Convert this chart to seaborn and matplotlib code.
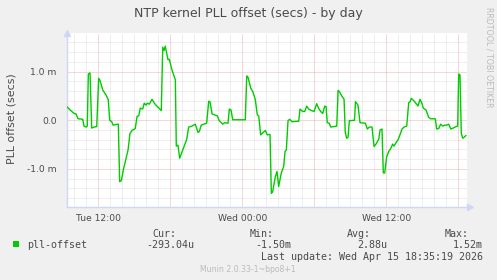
import matplotlib
matplotlib.use("Agg")
import matplotlib.pyplot as plt
from matplotlib.patches import Rectangle
import pandas as pd
import seaborn as sns

# ---- data (hours since Tue 00:00, offset in milliseconds) ----
hours = [9.37, 9.70, 9.98, 10.14, 10.31, 10.70, 10.81, 10.98, 11.08, 11.17, 11.31, 11.45, 11.64, 11.87,
         12.03, 12.14, 12.37, 12.64, 12.83, 12.95, 13.12, 13.23, 13.67, 13.78, 13.92, 14.10, 14.25, 14.48,
         14.64, 14.81, 15.08, 15.23, 15.37, 15.50, 15.70, 15.83, 15.98, 16.08, 16.25, 16.48, 16.67, 16.92,
         17.25, 17.37, 17.48, 17.58, 17.81, 17.92, 18.14, 18.42, 18.50, 18.64, 18.78, 19.08, 19.37, 19.53,
         19.81, 20.08, 20.31, 20.42, 20.58, 20.81, 21.03, 21.20, 21.31, 21.48, 21.70, 21.92, 22.08, 22.37,
         22.53, 22.81, 22.92, 23.06, 23.20, 23.48, 23.81, 24.25, 24.37, 24.48, 24.70, 24.87, 25.08, 25.25,
         25.37, 25.53, 25.75, 25.92, 26.08, 26.31, 26.42, 26.53, 26.75, 26.89, 27.03, 27.25, 27.45, 27.56,
         27.67, 27.81, 27.95, 28.14, 28.70, 28.81, 29.03, 29.20, 29.37, 29.53, 29.75, 29.98, 30.20, 30.37,
         30.53, 30.70, 30.87, 30.98, 31.08, 31.25, 31.37, 31.87, 31.98, 32.08, 32.31, 32.48, 32.58, 32.70,
         32.81, 32.92, 33.35, 33.43, 33.64, 33.81, 34.25, 34.42, 34.58, 34.81, 34.98, 35.14, 35.37, 35.48,
         35.64, 35.75, 35.87, 36.03, 36.20, 36.37, 36.53, 36.64, 36.81, 36.98, 37.14, 37.31, 37.48, 37.70,
         37.87, 37.98, 38.08, 38.37, 38.64, 38.81, 38.98, 39.08, 39.31, 39.53, 39.70, 40.08, 40.20, 40.37,
         40.53, 40.70, 40.87, 41.03, 41.20, 41.37, 41.58, 41.81, 41.95, 42.03, 42.14, 42.25, 42.37, 42.53,
         42.64]
offset_ms = [0.28, 0.20, 0.14, 0.13, 0.03, 0.02, -0.12, -0.14, -0.12, 0.95, 0.97, -0.16, -0.14, -0.13,
             0.86, 0.82, 0.62, 0.52, 0.42, 0.00, -0.03, -0.10, -0.08, -1.26, -1.24, -1.00, -0.85, -0.61,
             -0.27, -0.21, -0.17, 0.08, 0.09, 0.25, 0.23, 0.35, 0.31, 0.35, 0.33, 0.43, 0.35, 0.28,
             0.20, 1.50, 1.43, 1.52, 1.24, 1.25, 1.03, 0.83, -0.53, -0.51, -0.78, -0.58, -0.39, -0.14,
             -0.12, -0.08, -0.25, -0.23, -0.10, -0.08, -0.06, 0.39, 0.38, 0.13, 0.11, 0.09, -0.01, -0.08,
             -0.05, -0.06, 0.23, 0.21, 0.01, 0.01, 0.01, 0.01, 0.91, 0.88, 0.66, 0.59, 0.43, 0.11,
             0.09, -0.30, -0.25, -0.21, -0.30, -0.29, -1.50, -1.47, -1.16, -1.05, -1.36, -1.08, -0.95, -0.64,
             -0.61, -0.01, 0.02, -0.03, -0.02, 0.23, 0.18, 0.18, 0.29, 0.23, 0.20, 0.18, 0.34, 0.24,
             0.18, 0.14, 0.29, 0.28, -0.05, -0.06, -0.14, -0.12, 0.61, 0.59, 0.49, 0.43, -0.25, -0.37,
             -0.35, -0.01, 0.00, 0.38, 0.31, -0.05, -0.06, -0.18, -0.14, -0.14, -0.54, -0.49, -0.39, -0.20,
             -0.18, -1.08, -1.08, -0.75, -0.64, -0.58, -0.49, -0.53, -0.46, -0.40, -0.30, -0.18, -0.14, -0.12,
             0.36, 0.38, 0.45, 0.38, 0.29, 0.43, 0.34, 0.25, 0.21, 0.06, 0.03, 0.03, -0.18, -0.17,
             -0.08, -0.12, -0.10, -0.10, -0.08, -0.18, -0.16, -0.13, -0.12, 0.95, 0.93, -0.27, -0.37, -0.34,
             -0.31]

title = "NTP kernel PLL offset (secs) - by day"
y_label = "PLL offset (secs)"
x_tick_hours = [12, 24, 36]
x_tick_labels = ["Tue 12:00", "Wed 00:00", "Wed 12:00"]
y_ticks = [-1.0, 0.0, 1.0]
y_tick_labels = ["-1.0 m", "0.0", "1.0 m"]
series_name = "pll-offset"
stat_headers = ["Cur:", "Min:", "Avg:", "Max:"]
stat_values = ["-293.04u", "-1.50m", "2.88u", "1.52m"]
last_update = "Last update: Wed Apr 15 18:35:19 2026"
munin_version = "Munin 2.0.33-1~bpo8+1"
watermark = "RRDTOOL / TOBI OETIKER"

# ---- style ----
sns.set_style("white")
plt.rcParams['font.family'] = ['DejaVu Sans']

W, H = 497, 280
BG = "#F0F0F0"
FONT = "#4A4A4A"
AXIS = "#CFD6F8"
GRID = "#DEDEDE"
MGRID = "#EAB0B0"
LINE = "#00CC00"

def fx(px):
    return px / W

def fy(py):
    return 1 - py / H

fig = plt.figure(figsize=(W / 100, H / 100), dpi=100, facecolor=BG)
left, right, top, bottom = 66.5, 466.5, 33.0, 207.0
ax = fig.add_axes([fx(left), fy(bottom), (right - left) / W, (bottom - top) / H])
ax.set_facecolor("white")

xmin = 12 - (98.3 - left) / 12.0
xmax = 12 + (right - 98.3) / 12.0
ax.set_xlim(xmin, xmax)
ax.set_ylim(-1.78, 1.79)

# grid
dot = (0, (1, 1))
for h in range(10, 43):
    major = (h % 6 == 0)
    ax.axvline(h, color=MGRID if major else GRID, lw=0.72, ls=dot, zorder=2 if major else 1)
for k in range(-8, 9):
    v = k * 0.2
    major = (k % 5 == 0)
    ax.axhline(v, color=MGRID if major else GRID, lw=0.72, ls=dot, zorder=2 if major else 1)

df = pd.DataFrame({"hour": hours, "offset": offset_ms})
sns.lineplot(data=df, x="hour", y="offset", ax=ax, color=LINE, lw=1.0, zorder=5, legend=False)

ax.set_xlabel("")
ax.set_ylabel("")
for s in ["top", "right"]:
    ax.spines[s].set_visible(False)
for s in ["left", "bottom"]:
    ax.spines[s].set_color(AXIS)
    ax.spines[s].set_linewidth(1.0)

# ticks
major_x = [h for h in range(12, 43, 6)]
ax.set_xticks(major_x)
ax.set_xticklabels([x_tick_labels[x_tick_hours.index(h)] if h in x_tick_hours else "" for h in major_x])
ax.set_xticks(list(range(10, 43)), minor=True)
ax.tick_params(axis="x", which="major", length=2.5, width=0.72, color=MGRID, pad=2.5,
               labelsize=6.6, labelcolor=FONT)
ax.tick_params(axis="x", which="minor", length=2.0, width=0.72, color=GRID)
ax.set_yticks(y_ticks)
ax.set_yticklabels(y_tick_labels)
ax.set_yticks([k * 0.2 for k in range(-8, 9)], minor=True)
ax.tick_params(axis="y", which="major", length=2.0, width=0.72, color=MGRID, pad=5,
               labelsize=6.6, labelcolor=FONT)
ax.tick_params(axis="y", which="minor", length=2.0, width=0.72, color=GRID)

# arrows at ends of axes
ax.plot([0], [1.0], marker="^", color=AXIS, markersize=5, transform=ax.transAxes, clip_on=False, zorder=6)
ax.plot([1.0 + 3.5 / (right - left)], [0], marker=">", color=AXIS, markersize=5,
        transform=ax.transAxes, clip_on=False, zorder=6)

# texts
fig.text(fx(248), fy(13), title, ha="center", va="center", fontsize=9.0, color=FONT)
fig.text(fx(12), fy(119), y_label, ha="center", va="center", rotation=90, fontsize=7.9, color=FONT)
fig.text(fx(489), fy(7), watermark, ha="center", va="top", rotation=270, fontsize=5.7, color="#BBBBBB")

mono = "DejaVu Sans Mono"
fig.patches.append(Rectangle((fx(13), fy(246.5)), 6 / W, 6 / H, transform=fig.transFigure,
                             facecolor=LINE, edgecolor="none"))
fig.text(fx(27), fy(245.5), series_name, ha="left", va="center", fontsize=7.2, color=FONT, family=mono)
header_x = [176, 274, 371, 469]
value_x = [194, 291, 387, 483]
for hx, hd in zip(header_x, stat_headers):
    fig.text(fx(hx), fy(234), hd, ha="right", va="center", fontsize=7.2, color=FONT, family=mono)
for vx, vl in zip(value_x, stat_values):
    fig.text(fx(vx), fy(245.5), vl, ha="right", va="center", fontsize=7.2, color=FONT, family=mono)
fig.text(fx(483), fy(257.5), last_update, ha="right", va="center", fontsize=7.2, color=FONT, family=mono)
fig.text(fx(248), fy(269.5), munin_version, ha="center", va="center", fontsize=5.6, color="#BBBBBB")

fig.savefig("out.png", dpi=100, facecolor=BG)
